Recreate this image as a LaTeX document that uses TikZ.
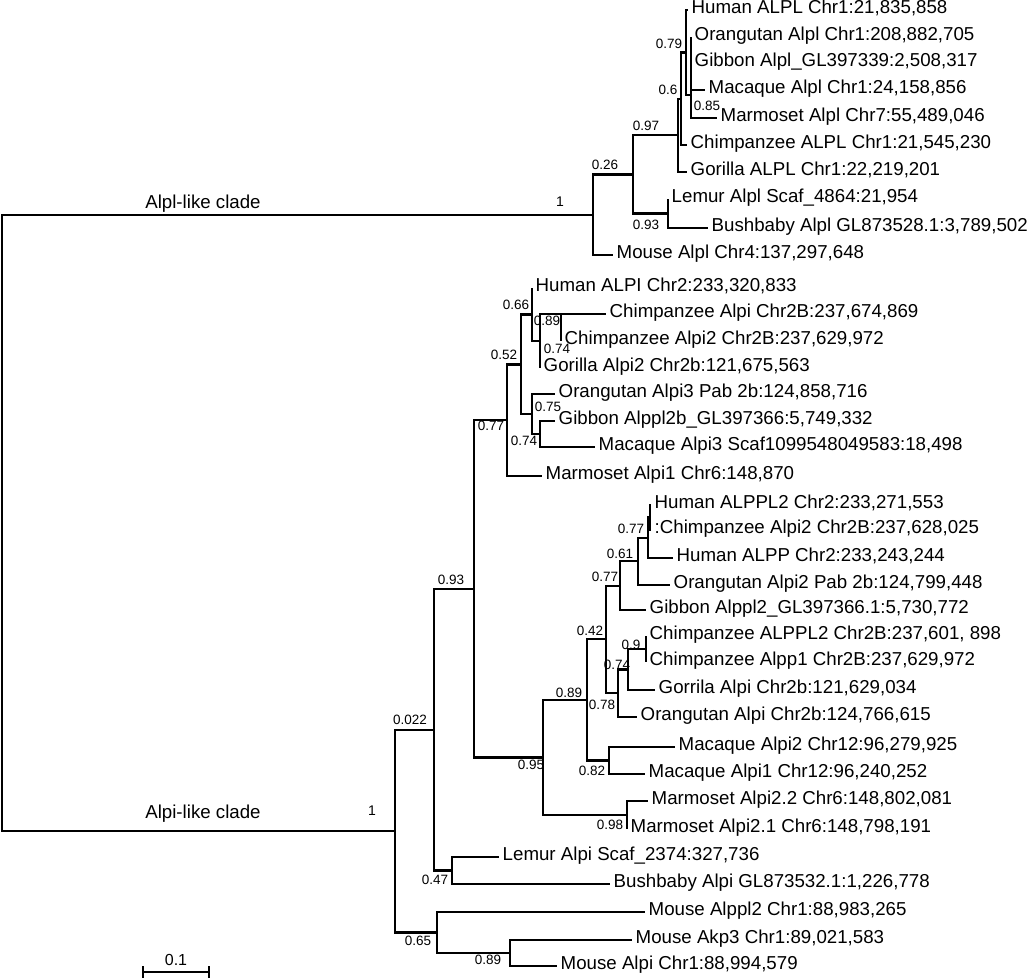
\documentclass[tikz,border=0pt]{standalone}
\usepackage{fontspec}
\setmainfont{Liberation Sans}
\begin{document}
\begin{tikzpicture}[x=1pt,y=-1pt,
  br/.style={line width=2.1pt},
  leaf/.style={anchor=west, inner xsep=3.5pt, inner ysep=0pt, text height=0.72em, text depth=0pt, font=\fontsize{18.7}{20}\selectfont},
  bs/.style={inner sep=0pt, text height=0.72em, text depth=0pt, font=\fontsize{13.5}{14}\selectfont},
  clade/.style={inner sep=0pt, text height=0.72em, text depth=0pt, font=\fontsize{18.7}{20}\selectfont},
  one/.style={inner sep=0pt, text height=0.72em, text depth=0pt, font=\fontsize{14}{15}\selectfont}]
\useasboundingbox (0,0) rectangle (1028,978);
% ---------- internal nodes: Alpl-like clade ----------
\coordinate (root) at (2,523);
\coordinate (cl) at (593,214.7);
\coordinate (n026) at (633,174.5);
\coordinate (n097) at (678,135.4);
\coordinate (n06) at (681,98.75);
\coordinate (n079) at (686,52.5);
\coordinate (n085) at (691,95);
\coordinate (n093t) at (668,213.5);
% ---------- internal nodes: Alpi-like clade ----------
\coordinate (ci) at (395,831);
\coordinate (n0022) at (434,729.8);
\coordinate (n093b) at (474,589);
\coordinate (n077) at (507,420);
\coordinate (n052) at (521,364.5);
\coordinate (n066) at (532,314.5);
\coordinate (nP) at (540,341);
\coordinate (n089c) at (561,314);
\coordinate (nQ) at (532,414);
\coordinate (nR) at (540,434);
\coordinate (n095) at (543,757.5);
\coordinate (n089) at (587,700);
\coordinate (n042) at (606,639.4);
\coordinate (nS4) at (620,585.7);
\coordinate (nS3) at (638,561.4);
\coordinate (nS2) at (648,537.75);
\coordinate (nS1) at (650,517.5);
\coordinate (nU) at (618,693);
\coordinate (nV) at (628,669.5);
\coordinate (nW) at (646,649);
\coordinate (nMac) at (609,760.5);
\coordinate (nMar) at (627,815);
\coordinate (n047) at (452,870.5);
\coordinate (n065) at (437,932.5);
\coordinate (n089m) at (510,953);
% ---------- leaves: Alpl-like ----------
\node[leaf] (a1) at (688,10) {Human ALPL Chr1:21,835,858};
\node[leaf] (a2) at (691,37) {Orangutan Alpl Chr1:208,882,705};
\node[leaf] (a3) at (691,63) {Gibbon Alpl\_GL397339:2,508,317};
\node[leaf] (a4) at (705,90) {Macaque Alpl Chr1:24,158,856};
\node[leaf] (a5) at (717,118) {Marmoset Alpl Chr7:55,489,046};
\node[leaf] (a6) at (687,145) {Chimpanzee ALPL Chr1:21,545,230};
\node[leaf] (a7) at (687,172) {Gorilla ALPL Chr1:22,219,201};
\node[leaf] (a8) at (668,199) {Lemur Alpl Scaf\_4864:21,954};
\node[leaf] (a9) at (708,228) {Bushbaby Alpl GL873528.1:3,789,502};
\node[leaf] (a10) at (613,255) {Mouse Alpl Chr4:137,297,648};
% ---------- leaves: Alpi-like ----------
\node[leaf] (b1) at (532,288) {Human ALPI Chr2:233,320,833};
\node[leaf] (b2) at (606,314) {Chimpanzee Alpi Chr2B:237,674,869};
\node[leaf] (b3) at (561,341) {Chimpanzee Alpi2 Chr2B:237,629,972};
\node[leaf] (b4) at (540,368) {Gorilla Alpi2 Chr2b:121,675,563};
\node[leaf] (b5) at (555,394) {Orangutan Alpi3 Pab 2b:124,858,716};
\node[leaf] (b6) at (555,421) {Gibbon Alppl2b\_GL397366:5,749,332};
\node[leaf] (b7) at (595,447) {Macaque Alpi3 Scaf1099548049583:18,498};
\node[leaf] (b8) at (542,476) {Marmoset Alpi1 Chr6:148,870};
\node[leaf] (b9) at (651,505) {Human ALPPL2 Chr2:233,271,553};
\node[leaf] (b10) at (651,530) {:Chimpanzee Alpi2 Chr2B:237,628,025};
\node[leaf] (b11) at (673,558) {Human ALPP Chr2:233,243,244};
\node[leaf] (b12) at (670,585) {Orangutan Alpi2 Pab 2b:124,799,448};
\node[leaf] (b13) at (646,610) {Gibbon Alppl2\_GL397366.1:5,730,772};
\node[leaf] (b14) at (646,636) {Chimpanzee ALPPL2 Chr2B:237,601, 898};
\node[leaf] (b15) at (646,662) {Chimpanzee Alpp1 Chr2B:237,629,972};
\node[leaf] (b16) at (655,690) {Gorrila Alpi Chr2b:121,629,034};
\node[leaf] (b17) at (637,717) {Orangutan Alpi Chr2b:124,766,615};
\node[leaf] (b18) at (675,747) {Macaque Alpi2 Chr12:96,279,925};
\node[leaf] (b19) at (645,774) {Macaque Alpi1 Chr12:96,240,252};
\node[leaf] (b20) at (648,801) {Marmoset Alpi2.2 Chr6:148,802,081};
\node[leaf] (b21) at (627,829) {Marmoset Alpi2.1 Chr6:148,798,191};
\node[leaf] (b22) at (499,857) {Lemur Alpi Scaf\_2374:327,736};
\node[leaf] (b23) at (610,884) {Bushbaby Alpi GL873532.1:1,226,778};
\node[leaf] (b24) at (645,912) {Mouse Alppl2 Chr1:88,983,265};
\node[leaf] (b25) at (632,940) {Mouse Akp3 Chr1:89,021,583};
\node[leaf] (b26) at (557,966) {Mouse Alpi Chr1:88,994,579};
% ---------- branches ----------
\draw[br] (root) |- (cl);
\draw[br] (root) |- (ci);
\draw[br] (cl) |- (n026);
\draw[br] (cl) |- (a10.west);
\draw[br] (n026) |- (n097);
\draw[br] (n026) |- (n093t);
\draw[br] (n097) |- (n06);
\draw[br] (n097) |- (a7.west);
\draw[br] (n06) |- (n079);
\draw[br] (n06) |- (a6.west);
\draw[br] (n079) |- (a1.west);
\draw[br] (n079) |- (n085);
\draw[br] (n085) |- (a2.west);
\draw[br] (n085) |- (a3.west);
\draw[br] (n085) |- (a4.west);
\draw[br] (n085) |- (a5.west);
\draw[br] (n093t) |- (a8.west);
\draw[br] (n093t) |- (a9.west);
\draw[br] (ci) |- (n0022);
\draw[br] (ci) |- (n065);
\draw[br] (n0022) |- (n093b);
\draw[br] (n0022) |- (n047);
\draw[br] (n093b) |- (n077);
\draw[br] (n093b) |- (n095);
\draw[br] (n077) |- (n052);
\draw[br] (n077) |- (b8.west);
\draw[br] (n052) |- (n066);
\draw[br] (n052) |- (nQ);
\draw[br] (n066) |- (b1.west);
\draw[br] (n066) |- (nP);
\draw[br] (nP) |- (n089c);
\draw[br] (nP) |- (b4.west);
\draw[br] (n089c) |- (b2.west);
\draw[br] (n089c) |- (b3.west);
\draw[br] (nQ) |- (b5.west);
\draw[br] (nQ) |- (nR);
\draw[br] (nR) |- (b6.west);
\draw[br] (nR) |- (b7.west);
\draw[br] (n095) |- (n089);
\draw[br] (n095) |- (nMar);
\draw[br] (n089) |- (n042);
\draw[br] (n089) |- (nMac);
\draw[br] (n042) |- (nS4);
\draw[br] (n042) |- (nU);
\draw[br] (nS4) |- (nS3);
\draw[br] (nS4) |- (b13.west);
\draw[br] (nS3) |- (nS2);
\draw[br] (nS3) |- (b12.west);
\draw[br] (nS2) |- (nS1);
\draw[br] (nS2) |- (b11.west);
\draw[br] (nS1) |- (b9.west);
\draw[br] (nS1) |- (b10.west);
\draw[br] (nU) |- (nV);
\draw[br] (nU) |- (b17.west);
\draw[br] (nV) |- (nW);
\draw[br] (nV) |- (b16.west);
\draw[br] (nW) |- (b14.west);
\draw[br] (nW) |- (b15.west);
\draw[br] (nMac) |- (b18.west);
\draw[br] (nMac) |- (b19.west);
\draw[br] (nMar) |- (b20.west);
\draw[br] (nMar) |- (b21.west);
\draw[br] (n047) |- (b22.west);
\draw[br] (n047) |- (b23.west);
\draw[br] (n065) |- (b24.west);
\draw[br] (n065) |- (n089m);
\draw[br] (n089m) |- (b25.west);
\draw[br] (n089m) |- (b26.west);
% ---------- clade labels ----------
\node[clade] (tAlpl) at (203,205) {Alpl-like clade};
\node[one] (oAlpl) at (560,203) {1};
\node[clade] (tAlpi) at (203,815) {Alpi-like clade};
\node[one] (oAlpi) at (372,812) {1};
% ---------- support values ----------
\node[bs] (s1) at (605,166) {0.26};
\node[bs] (s2) at (646,127) {0.97};
\node[bs] (s3) at (646,226) {0.93};
\node[bs] (s4) at (668,91) {0.6};
\node[bs] (s5) at (669,45) {0.79};
\node[bs] (s6) at (707,107) {0.85};
\node[bs] (s7) at (410,721) {0.022};
\node[bs] (s8) at (451,581) {0.93};
\node[bs] (s9) at (435,881) {0.47};
\node[bs] (s10) at (418,942) {0.65};
\node[bs] (s11) at (488,961) {0.89};
\node[bs] (s12) at (491,427) {0.77};
\node[bs] (s13) at (531,766) {0.95};
\node[bs] (s14) at (504,356) {0.52};
\node[bs] (s15) at (516,306) {0.66};
\node[bs] (s16) at (547,322) {0.89};
\node[bs] (s17) at (557,350) {0.74};
\node[bs] (s18) at (548,408) {0.75};
\node[bs] (s19) at (524,442) {0.74};
\node[bs] (s20) at (569,694) {0.89};
\node[bs] (s21) at (590,632) {0.42};
\node[bs] (s22) at (605,578) {0.77};
\node[bs] (s23) at (620,555) {0.61};
\node[bs] (s24) at (631,530) {0.77};
\node[bs] (s25) at (602,706) {0.78};
\node[bs] (s26) at (617,666) {0.74};
\node[bs] (s27) at (631,646) {0.9};
\node[bs] (s28) at (592,772) {0.82};
\node[bs] (s29) at (610,826) {0.98};
% ---------- scale bar ----------
\coordinate (sbl) at (143,972);
\coordinate (sbr) at (209,972);
\draw[br] (sbl) -- (sbr);
\draw[br] (sbl) ++(0,-6) -- ++(0,12);
\draw[br] (sbr) ++(0,-6) -- ++(0,12);
\node[inner sep=0pt, text height=0.72em, text depth=0pt, font=\fontsize{16}{17}\selectfont] (sbt) at (176,962) {0.1};
\end{tikzpicture}
\end{document}
